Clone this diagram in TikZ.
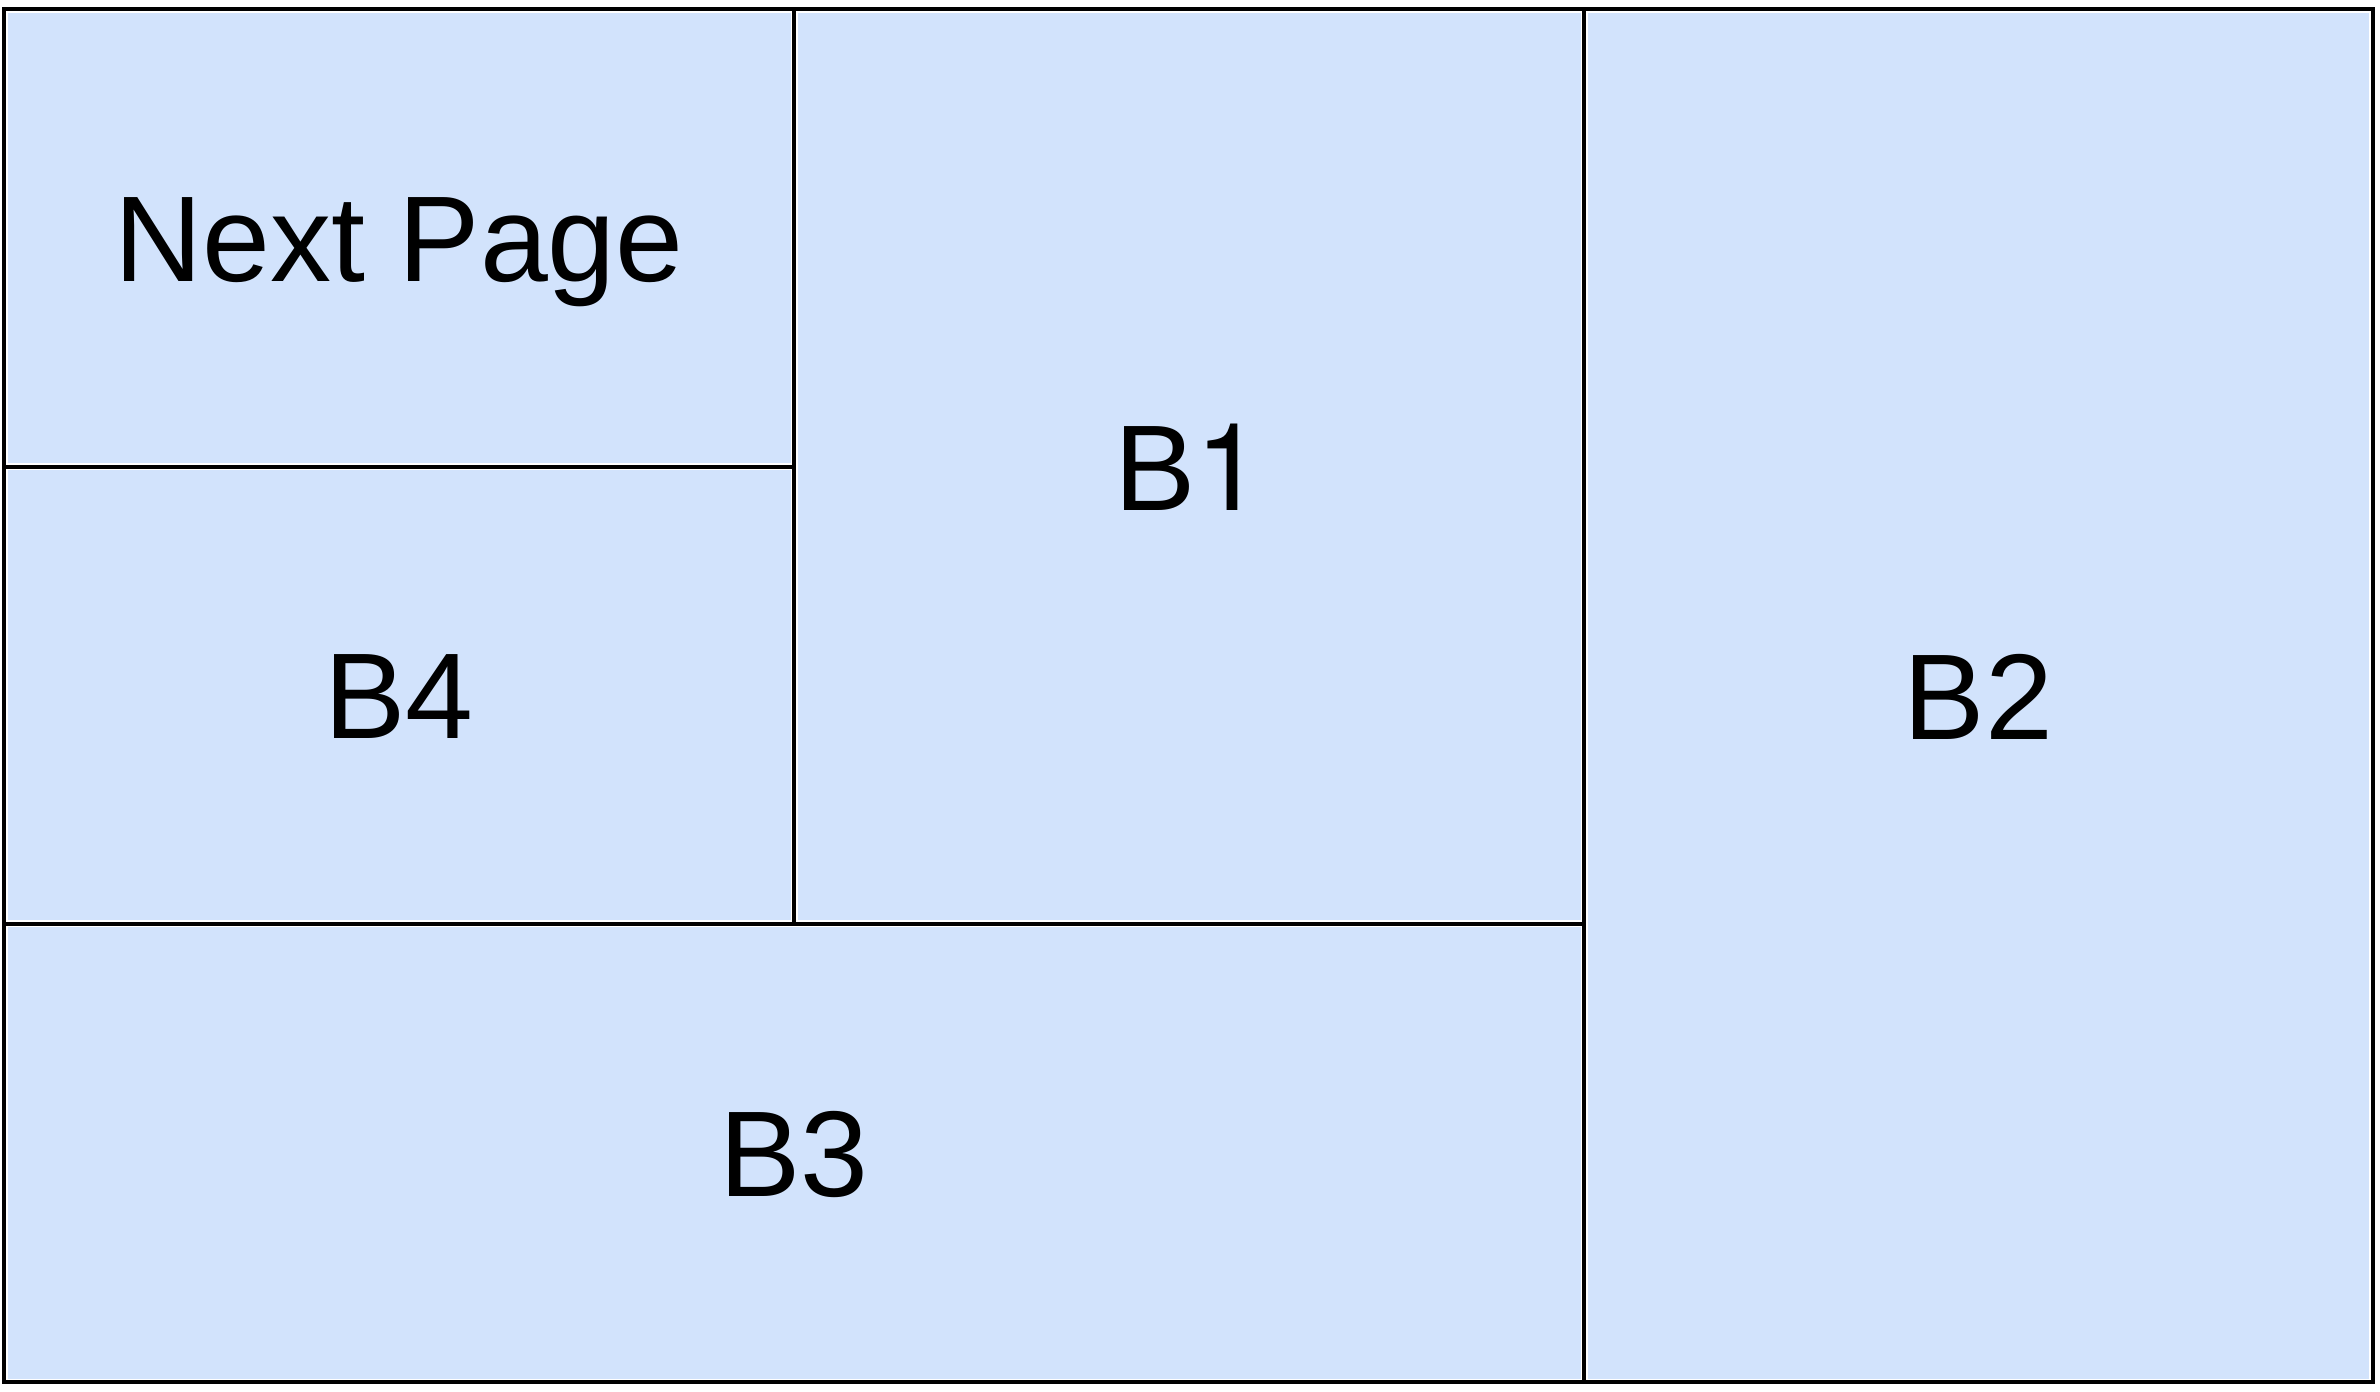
\documentclass[tikz,border=0pt]{standalone}
\usepackage{fontspec}
\setmainfont{Liberation Sans}
\newfontfamily\herosfont{TeX Gyre Heros}
\definecolor{cellblue}{HTML}{D2E3FC}
\begin{document}
\begin{tikzpicture}[x=1pt,y=1pt,
  cell/.style={rectangle, inner sep=0pt, outer sep=0pt, fill=cellblue, draw=white, line width=7pt,
    font=\fontsize{122}{146}\selectfont, text height=87pt, text depth=0pt, align=center},
  edge/.style={draw=black, line width=4pt}]
\useasboundingbox[fill=white] (0,0) rectangle (2380,1392);
\node[cell, minimum width=790pt, minimum height=457.2pt] (np) at (399,1153.9) {Next Page};
\node[cell, minimum width=790pt, minimum height=457.3pt] (b4) at (399,696.65) {B4};
\node[cell, minimum width=790pt, minimum height=914.5pt] (b1) at (1189,925.25) {B{\herosfont 1}};
\node[cell, minimum width=1580pt, minimum height=458.5pt] (b3) at (794,238.75) {B3};
\node[cell, minimum width=788.5pt, minimum height=1373pt] (b2) at (1978.25,696) {B2};
\foreach \c in {np,b4,b1,b3,b2}
  \draw[edge] (\c.south west) rectangle (\c.north east);
\end{tikzpicture}
\end{document}
